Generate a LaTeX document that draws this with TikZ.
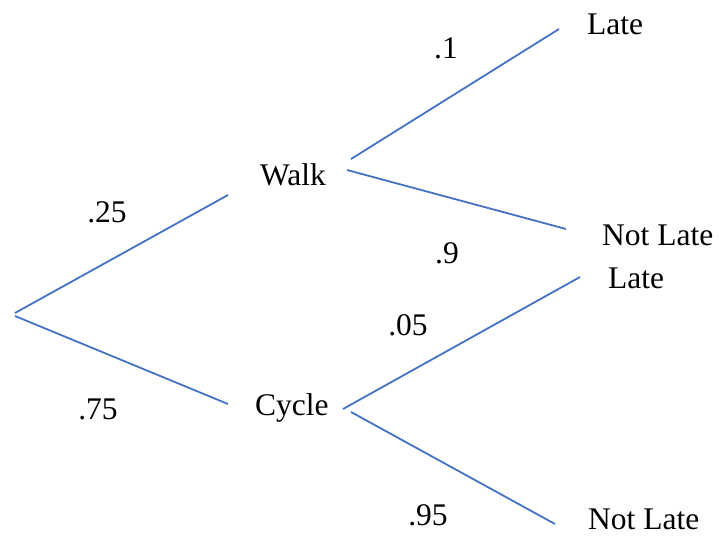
\documentclass[tikz,border=0pt]{standalone}
\usepackage{fontspec}
\setmainfont{Liberation Serif}
\usetikzlibrary{positioning}
\definecolor{branchblue}{RGB}{68,114,196}

\begin{document}
\begin{tikzpicture}[x=1pt, y=-1pt,
    every node/.style={font=\fontsize{31.5}{37}\selectfont, inner sep=0pt},
    outcome/.style={anchor=base west},
    branch/.style={draw=branchblue, line width=1.8pt}]
    \useasboundingbox (0,0) rectangle (719,540);

    \node[outcome] (Walk)     at (260,185) {Walk};
    \node[outcome] (Cycle)    at (255,415) {Cycle};
    \node[outcome] (Late 1)   at (587,35)  {Late};
    \node[outcome] (Not Late 1) at (602,245) {Not Late};
    \node[outcome] (Late 2)   at (608,288) {Late};
    \node[outcome] (Not Late 2) at (588,529) {Not Late};

    \node (p walk)   at (107,212) {.25};
    \node (p cycle)  at (98,409)  {.75};
    \node (p late 1) at (446,48)  {.1};
    \node (p not 1)  at (447,253) {.9};
    \node (p late 2) at (408,325) {.05};
    \node (p not 2)  at (428,515) {.95};

    % branch ends
    \coordinate (root a)  at (15,313);
    \coordinate (root b)  at (15,316);
    \coordinate (Walk in) at (228,195);
    \coordinate (Cycle in) at (228,404);
    \coordinate (Walk up)   at (351,159);
    \coordinate (Walk down) at (347,170);
    \coordinate (Cycle up)   at (343,409);
    \coordinate (Cycle down) at (351,412);
    \coordinate (Late 1 in)     at (559,29);
    \coordinate (Not Late 1 in) at (566,229);
    \coordinate (Late 2 in)     at (580,277);
    \coordinate (Not Late 2 in) at (555,524);

    \draw[branch] (root a) -- (Walk in);
    \draw[branch] (root b) -- (Cycle in);
    \draw[branch] (Walk up) -- (Late 1 in);
    \draw[branch] (Walk down) -- (Not Late 1 in);
    \draw[branch] (Cycle up) -- (Late 2 in);
    \draw[branch] (Cycle down) -- (Not Late 2 in);
\end{tikzpicture}
\end{document}
